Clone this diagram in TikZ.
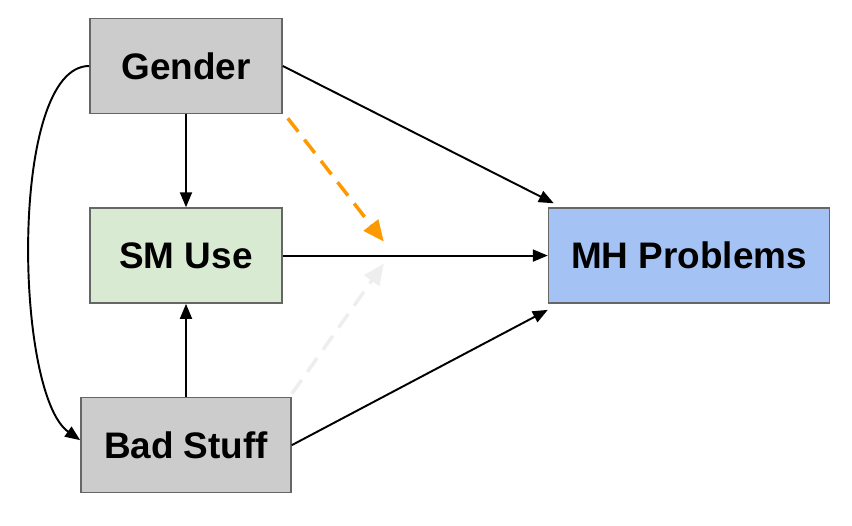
\documentclass[tikz,border=0pt]{standalone}
\usepackage{fontspec}
\setmainfont{Liberation Sans}
\usepackage{tikz}
\usetikzlibrary{arrows.meta, positioning, calc}
\definecolor{boxgray}{HTML}{cccccc}
\definecolor{boxgreen}{HTML}{d9ead3}
\definecolor{boxblue}{HTML}{a4c2f4}
\definecolor{boxline}{HTML}{666666}
\definecolor{modorange}{HTML}{ff9900}
\definecolor{modgray}{HTML}{eeeeee}

\begin{document}
\begin{tikzpicture}[
        node distance=1.86cm,
        var/.style={rectangle, draw=boxline, line width=0.9pt, minimum width=3.84cm, minimum height=1.9cm, font=\fontsize{21}{24}\selectfont\bfseries},
        arrow/.style={-{Triangle[length=0.3cm, width=0.24cm]}, line width=1.1pt},
        modarrow/.style={-{Triangle[length=0.42cm, width=0.36cm]}, line width=2pt, dash pattern=on 0.34cm off 0.2cm}
    ]
    \useasboundingbox (0,0) rectangle (17.04,10.52);

    \node[var, fill=boxgray] (gender) at (3.72,9.2) {Gender};
    \node[var, fill=boxgreen, below=of gender] (sm) {SM Use};
    \node[var, fill=boxgray, minimum width=4.2cm, below=of sm] (bad) {Bad Stuff};
    \node[var, fill=boxblue, minimum width=5.62cm, right=5.3cm of sm] (mh) {MH Problems};

    % moderation points on the SM -> MH path
    \coordinate (modtop) at ($(sm.east)+(2.02,0.28)$);
    \coordinate (modbot) at ($(sm.east)+(2.02,-0.16)$);

    \draw[arrow] (gender) -- (sm);
    \draw[arrow] (bad) -- (sm);
    \draw[arrow] (sm) -- (mh);
    \draw[arrow] (gender.east) -- ([xshift=0.12cm, yshift=0.08cm]mh.north west);
    \draw[arrow] (bad.east) -- ([yshift=-0.12cm]mh.south west);
    \draw[arrow] (gender.west) to[out=180, in=145, looseness=0.55] ([yshift=0.1cm]bad.west);

    \draw[modarrow, modorange] ([xshift=0.1cm, yshift=-0.08cm]gender.south east) -- (modtop);
    \draw[modarrow, modgray] ([yshift=0.06cm]bad.north east) -- (modbot);
\end{tikzpicture}
\end{document}
